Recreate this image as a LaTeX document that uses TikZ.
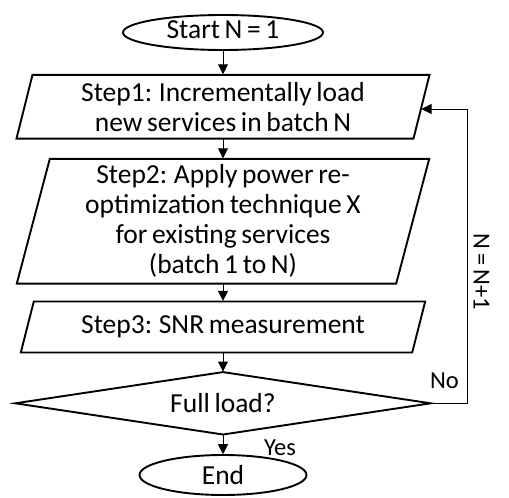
\documentclass[tikz,border=0pt]{standalone}
\usepackage{fontspec}
\setmainfont{Carlito}[WordSpace=0.75]
\usetikzlibrary{arrows.meta,calc}
\begin{document}
\begin{tikzpicture}[x=1pt,y=-1pt,
  box/.style={inner sep=0pt, align=center, font=\fontsize{27.5}{30}\selectfont},
  lbl/.style={inner sep=0pt, font=\fontsize{24.5}{28}\selectfont},
  outline/.style={line width=1.9pt, line join=miter},
  link/.style={line width=1pt, -{Triangle[length=10pt,width=10pt]}, shorten >=0.6pt}]
\useasboundingbox (0,0) rectangle (509,498);

% terminal: start
\node[box, minimum width=200pt, minimum height=35pt, text height=20pt, text depth=8pt] (start) at (223,32.5) {Start N = 1};
\draw[outline] (start.center) ellipse [x radius=100, y radius=17.5];

% step 1
\node[box, minimum width=396.6pt, minimum height=63.3pt] (s1) at (223,106.7)
  {Step1: Incrementally load\\new services in batch N};
\draw[outline] ($(s1.south west)+(-8,0)$) -- ($(s1.south east)+(-8,0)$)
  -- ($(s1.north east)+(8,0)$) -- ($(s1.north west)+(8,0)$) -- cycle;

% step 2
\node[box, minimum width=379pt, minimum height=124.3pt] (s2) at (223,221.2)
  {Step2: Apply power re-\\optimization technique X\\for existing services\\(batch 1 to N)};
\draw[outline] ($(s2.south west)+(-16.5,0)$) -- ($(s2.south east)+(-16.5,0)$)
  -- ($(s2.north east)+(16.5,0)$) -- ($(s2.north west)+(16.5,0)$) -- cycle;

% step 3
\node[box, minimum width=391pt, minimum height=50.6pt] (s3) at (223,327)
  {Step3: SNR measurement};
\draw[outline] ($(s3.south west)+(-6.5,0)$) -- ($(s3.south east)+(-6.5,0)$)
  -- ($(s3.north east)+(6.5,0)$) -- ($(s3.north west)+(6.5,0)$) -- cycle;

% decision
\node[box, minimum width=415pt, minimum height=62pt] (dec) at (223,403.3) {Full load?};
\draw[outline] (dec.west) -- (dec.north) -- (dec.east) -- (dec.south) -- cycle;

% terminal: end
\node[box, minimum width=167pt, minimum height=40pt] (stop) at (223,475) {End};
\draw[outline] (stop.center) ellipse [x radius=83.5, y radius=20];

% main flow
\draw[link] (start.south) -- (s1.north);
\draw[link] (s1.south) -- (s2.north);
\draw[link] (s2.south) -- (s3.north);
\draw[link] (s3.south) -- (dec.north);
\draw[link] (dec.south) -- (stop.north);

% feedback loop
\coordinate (turn) at (467.7,403.3);
\coordinate (s1in) at ($(s1.east)+(-0.6,2.3)$);
\draw[link] (dec.east) -- (turn) |- (s1in);

% labels
\node[lbl, anchor=base] (no) at (444.5,388.5) {No};
\node[lbl, anchor=base] (yes) at (280,455.5) {Yes};
\node[lbl, rotate=-90] (incr) at (481.5,272) {N = N+1};
\end{tikzpicture}
\end{document}
